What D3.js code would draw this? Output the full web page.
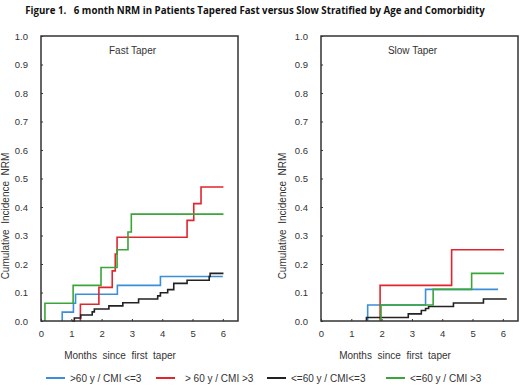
<!doctype html>
<html lang="en">
<head>
  <meta charset="UTF-8">
  <script src="https://cdn.jsdelivr.net/npm/d3@7"></script>
  <title>Figure 1</title>
  <style>
    body{ margin:0; background:#fff; }
    svg text{ font-family:"Liberation Sans", Arial, sans-serif; fill:#333; white-space:pre; }
    .ttl{ font-family:"Open Sans", "Noto Sans", sans-serif; font-weight:bold; fill:#111; }
  </style>
</head>
<body>
  <div class="chart"></div>
  <script>
    // tick labels
    const monthTicks = [0, 1, 2, 3, 4, 5, 6];
    const incTicks = [0, 0.1, 0.2, 0.3, 0.4, 0.5, 0.6, 0.7, 0.8, 0.9, 1.0];
    const seriesNames = ['>60 y / CMI <=3', '> 60 y / CMI >3', '<=60 y / CMI<=3', '<=60 y / CMI >3'];
    const seriesColors = ['#3b8fd8', '#e0262d', '#222222', '#3aa539'];

    // [month, cumulative incidence] - step after each point
    const fastOldLow = [[0.70, 0], [0.70, 0.031], [1.07, 0.0625], [1.14, 0.094], [2.52, 0.125], [3.94, 0.156], [6.0, 0.156]];
    const fastOldHigh = [[1.30, 0], [1.30, 0.059], [1.91, 0.118], [2.35, 0.176], [2.45, 0.235], [2.51, 0.294], [4.82, 0.353], [5.04, 0.412], [5.28, 0.47], [6.02, 0.47]];
    const fastYoungLow = [[1.03, 0], [1.10, 0.0105], [1.31, 0.021], [1.69, 0.032], [1.76, 0.042], [2.24, 0.053], [2.70, 0.064], [3.22, 0.077], [3.85, 0.088], [3.94, 0.099], [4.18, 0.110], [4.38, 0.132], [4.82, 0.143], [5.55, 0.156], [5.58, 0.167], [6.02, 0.167]];
    const fastYoungHigh = [[0.13, 0], [0.13, 0.0625], [1.06, 0.125], [1.98, 0.1875], [2.51, 0.25], [2.87, 0.3125], [2.98, 0.375], [6.02, 0.375]];

    const slowOldLow = [[1.54, 0], [1.54, 0.056], [3.45, 0.111], [5.84, 0.111]];
    const slowOldHigh = [[1.95, 0], [1.95, 0.125], [4.31, 0.25], [6.04, 0.25]];
    const slowYoungLow = [[1.50, 0], [1.50, 0.0125], [2.88, 0.025], [3.31, 0.037], [3.45, 0.044], [3.55, 0.051], [4.37, 0.063], [5.36, 0.077], [6.13, 0.077]];
    const slowYoungHigh = [[1.98, 0], [1.98, 0.056], [3.70, 0.111], [4.97, 0.167], [6.04, 0.167]];

    const W = 520, H = 386;
    const svg = d3.select('.chart').append('svg').attr('width', W).attr('height', H);

    // title squeezed horizontally to the width it has in the figure
    const title = svg.append('text').attr('class', 'ttl')
      .attr('x', 0).attr('y', 0).attr('font-size', 11).attr('text-anchor', 'middle')
      .text('Figure 1.   6 month NRM in Patients Tapered Fast versus Slow Stratified by Age and Comorbidity');
    const tw = title.node().getComputedTextLength();
    title.attr('transform', `translate(255,14) scale(${Math.min(1, 460 / tw)},1)`);

    const panels = [
      { left: 41, title: 'Fast Taper', series: [fastOldLow, fastOldHigh, fastYoungLow, fastYoungHigh], xTitle: 120, yTitle: 9 },
      { left: 321, title: 'Slow Taper', series: [slowOldLow, slowOldHigh, slowYoungLow, slowYoungHigh], xTitle: 395, yTitle: 286 }
    ];

    const yScale = d3.scaleLinear().domain([0, 1]).range([321, 36]);

    panels.forEach(p => {
      const xScale = d3.scaleLinear().domain([0, 6.5]).range([p.left, p.left + 197]);
      const g = svg.append('g');

      // y axis labels + inner ticks
      const yAxis = d3.axisLeft(yScale).tickValues(incTicks).tickFormat(d3.format('.1f'))
        .tickSizeInner(-2).tickSizeOuter(0).tickPadding(13);
      const ya = g.append('g').attr('transform', `translate(${p.left},0)`).call(yAxis);
      ya.select('.domain').remove();
      ya.selectAll('line').attr('stroke', '#333');
      ya.selectAll('text').attr('font-size', 9.5).attr('fill', '#444').attr('font-family', '"Liberation Sans", Arial, sans-serif');

      const xAxis = d3.axisBottom(xScale).tickValues(monthTicks).tickFormat(d3.format('d'))
        .tickSizeInner(-2).tickSizeOuter(0).tickPadding(9);
      const xa = g.append('g').attr('transform', `translate(0,${yScale(0)})`).call(xAxis);
      xa.select('.domain').remove();
      xa.selectAll('line').attr('stroke', '#333');
      xa.selectAll('text').attr('font-size', 9.5).attr('fill', '#444').attr('font-family', '"Liberation Sans", Arial, sans-serif');

      const line = d3.line().x(d => xScale(d[0])).y(d => yScale(d[1])).curve(d3.curveStepAfter);
      p.series.forEach((s, i) => {
        g.append('path').datum(s).attr('d', line)
          .attr('fill', 'none').attr('stroke', seriesColors[i]).attr('stroke-width', 1.6);
      });

      g.append('rect')
        .attr('x', xScale(0)).attr('y', yScale(1))
        .attr('width', xScale(6.5) - xScale(0)).attr('height', yScale(0) - yScale(1))
        .attr('fill', 'none').attr('stroke', '#333').attr('stroke-width', 1.5);

      g.append('text').attr('x', xScale(3.02)).attr('y', 54).attr('text-anchor', 'middle')
        .attr('font-size', 10).text(p.title);

      g.append('text').attr('x', p.xTitle).attr('y', 359).attr('text-anchor', 'middle')
        .attr('font-size', 10).text('Months  since  first  taper');

      g.append('text').attr('transform', `translate(${p.yTitle},216) rotate(-90)`)
        .attr('text-anchor', 'middle').attr('font-size', 10).text('Cumulative  Incidence  NRM');
    });

    // legend
    const legX = [46, 156, 267, 386];
    const leg = svg.append('g').selectAll('g').data(seriesNames).enter().append('g')
      .attr('transform', (d, i) => `translate(${legX[i]},378)`);
    leg.append('line').attr('x1', 0).attr('x2', 19).attr('y1', 0).attr('y2', 0)
      .attr('stroke', (d, i) => seriesColors[i]).attr('stroke-width', 2);
    leg.append('text').attr('x', (d, i) => i === 1 ? 29 : 24).attr('y', 3.5).attr('font-size', 10).text(d => d);
  </script>
</body>
</html>
